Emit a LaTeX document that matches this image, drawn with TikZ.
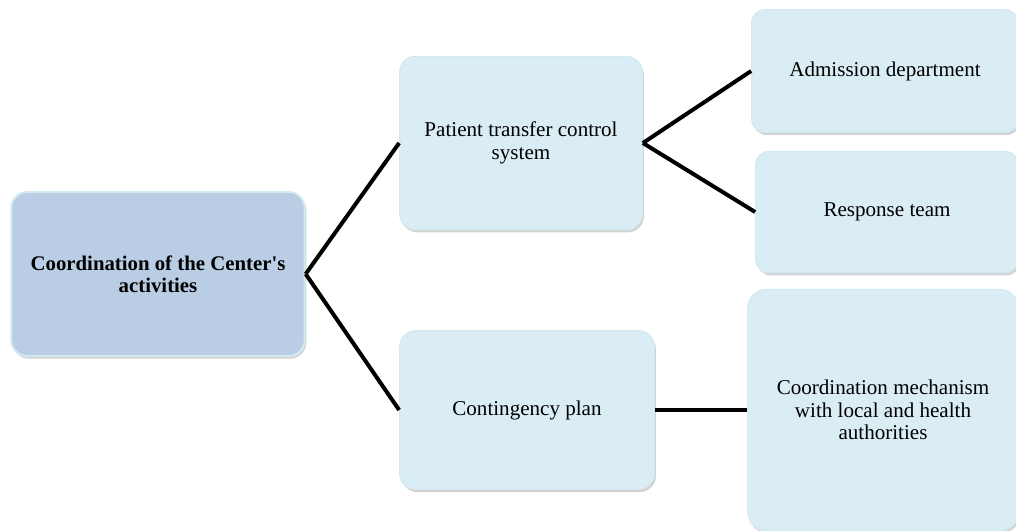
\documentclass[tikz,border=0pt]{standalone}
\usepackage{fontspec}
\setmainfont{Liberation Serif}[Ligatures=TeXOff]
\usetikzlibrary{shadows}
\definecolor{rootfill}{HTML}{B9CDE5}
\definecolor{leaffill}{HTML}{DAEDF4}
\definecolor{boxline}{HTML}{D3E9F2}
\begin{document}
\begin{tikzpicture}[x=0.75pt,y=-0.75pt,
    box/.style={draw=boxline,line width=0.8pt,fill=leaffill,rounded corners=12pt,
      align=center,inner sep=0pt,font=\fontsize{15.8}{16.9}\selectfont,
      drop shadow={shadow xshift=1.2pt,shadow yshift=-2pt,opacity=0.35}},
    rootbox/.style={box,fill=rootfill,draw=boxline,line width=1.5pt,font=\fontsize{15.6}{16.8}\selectfont\bfseries},
    link/.style={line width=3pt,black}]
    \useasboundingbox (0,0) rectangle (1016,531);
    \node[rootbox,minimum width=220pt,minimum height=123pt](center)at(158,274)
        {Coordination of the Center's\\activities};
    \node[box,minimum width=182pt,minimum height=130pt](transfer)at(521,143)
        {Patient transfer control\\system};
    \node[box,minimum width=191pt,minimum height=119pt](plan)at(527,410)
        {Contingency plan};
    \node[box,minimum width=200pt,minimum height=92pt,rounded corners=10pt](admission)at(885,71)
        {Admission department};
    \node[box,minimum width=197pt,minimum height=91pt,rounded corners=10pt](response)at(887,212)
        {Response team};
    \node[box,minimum width=203pt,minimum height=181pt,rounded corners=14pt](mechanism)at(883,410)
        {Coordination mechanism\\with local and health\\authorities};
    \draw[link](center.east)--(transfer.west);
    \draw[link](center.east)--(plan.west);
    \draw[link](transfer.east)--(admission.west);
    \draw[link](transfer.east)--(response.west);
    \draw[link](plan.east)--(mechanism.west);
\end{tikzpicture}
\end{document}
